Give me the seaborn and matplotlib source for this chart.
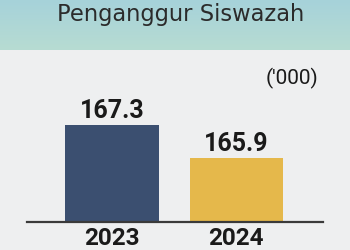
import numpy as np
import pandas as pd
import matplotlib
matplotlib.use("Agg")
import matplotlib.pyplot as plt
import seaborn as sns
from matplotlib.colors import LinearSegmentedColormap

years = ["2023", "2024"]
values = [167.3, 165.9]
value_labels = ["167.3", "165.9"]
title = "Penganggur Siswazah"
unit_note = "('000)"
bar_colors = ["#3b4f70", "#e5b84b"]

df = pd.DataFrame({"year": years, "value": values})

W, H = 350, 250
fig = plt.figure(figsize=(W / 100, H / 100), dpi=100)
fig.patch.set_facecolor("#eeeff0")

# header band with soft gradient
hax = fig.add_axes([0, 1 - 50 / H, 1, 50 / H])
hax.set_axis_off()
grad = np.linspace(0, 1, 100).reshape(-1, 1) * np.ones((1, 200))
cmap = LinearSegmentedColormap.from_list("hdr", ["#a6d2da", "#b7dcd2"])
hax.imshow(grad, aspect="auto", cmap=cmap, extent=[0, 1, 0, 1], origin="upper")
hax.set_xlim(0, 1)
hax.set_ylim(0, 1)

fig.text(181 / W, 1 - 21 / H, title, ha="center", va="baseline",
         fontsize=16.3, color="#2b2b2b", family=["DejaVu Sans"])

ax = fig.add_axes([27 / W, 28 / H, 296 / W, (222 - 50) / H])
ax.set_facecolor("none")
sns.barplot(data=df, x="year", y="value", hue="year", palette=bar_colors,
            legend=False, width=0.75, ax=ax, saturation=1)

base = 163.18
ax.set_ylim(base, base + 172 / 23.5)
ax.set_xlim(-0.685, 1.70)

for cont, lab in zip(ax.containers, value_labels):
    ax.bar_label(cont, labels=[lab], padding=1.5, fontsize=18,
                 fontweight="bold", color="#1a1a1a", family="Roboto")

for s in ["top", "right", "left"]:
    ax.spines[s].set_visible(False)
ax.spines["bottom"].set_color("#3a3a3a")
ax.spines["bottom"].set_linewidth(1.6)
ax.set_yticks([])
ax.set_xlabel("")
ax.set_ylabel("")
ax.tick_params(axis="x", length=0, pad=3.5)
for t in ax.get_xticklabels():
    t.set_fontsize(17.5)
    t.set_fontweight("bold")
    t.set_family("Roboto")
    t.set_color("#1a1a1a")

fig.text(318 / W, 1 - 78 / H, unit_note, ha="right", va="center",
         fontsize=15, color="#1a1a1a", family="Roboto")

fig.savefig("out.png", dpi=100, facecolor=fig.get_facecolor())
